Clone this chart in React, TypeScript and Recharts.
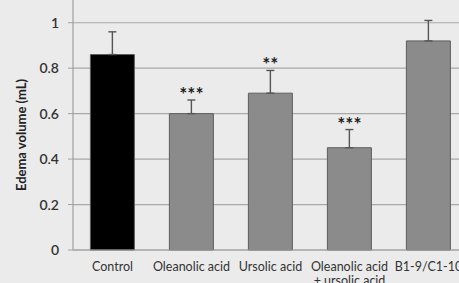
import React from "react";
import {
  BarChart,
  Bar,
  Cell,
  XAxis,
  YAxis,
  CartesianGrid,
  ErrorBar,
  LabelList,
} from "recharts";

const groups = [
  "Control",
  "Oleanolic acid",
  "Ursolic acid",
  "Oleanolic acid\n+ ursolic acid",
  "B1-9/C1-10",
];
const volumes = [0.86, 0.6, 0.69, 0.45, 0.92];
const sdUp = [0.1, 0.06, 0.1, 0.08, 0.09];
const stars = ["", "***", "**", "***", ""];
const barColors = ["#000000", "#8b8b8b", "#8b8b8b", "#8b8b8b", "#8b8b8b"];
const yTicks = [0, 0.2, 0.4, 0.6, 0.8, 1];

const data = groups.map((g, i) => ({
  group: g,
  volume: volumes[i],
  err: [0, sdUp[i]],
  sig: stars[i],
}));

const FONT = "Lato, 'Open Sans', sans-serif";

function GroupTick({ x, y, payload }: any) {
  const lines = String(payload.value).split("\n");
  return (
    <text
      x={x}
      y={y}
      textAnchor="middle"
      fill="#333"
      fontSize={12.5}
      fontFamily={FONT}
    >
      {lines.map((l, i) => (
        <tspan key={i} x={x} dy={i === 0 ? "0.71em" : 14}>
          {l}
        </tspan>
      ))}
    </text>
  );
}

// stars sit just above the error bar top
function StarLabel(props: any) {
  const { x, y, width, height, value, index } = props;
  if (!value) return null;
  const perUnit = height / volumes[index];
  const top = y - sdUp[index] * perUnit;
  return (
    <text
      x={x + width / 2}
      y={top + 1}
      textAnchor="middle"
      fill="#222"
      fontSize={19}
      fontWeight="bold"
      fontFamily={FONT}
    >
      {value}
    </text>
  );
}

export default function App() {
  return (
    <div
      style={{
        position: "absolute",
        left: 0,
        top: 0,
        width: 459,
        height: 283,
        overflow: "hidden",
        background: "#ebebeb",
      }}
    >
      <BarChart
        width={468}
        height={283}
        data={data}
        margin={{ top: 0, right: 0, left: 0, bottom: 0 }}
        barCategoryGap="22%"
      >
        <CartesianGrid
          vertical={false}
          stroke="#a9a9a9"
          strokeWidth={1.2}
          horizontalValues={yTicks}
        />
        <XAxis
          dataKey="group"
          interval={0}
          tickLine={false}
          axisLine={{ stroke: "#a0a0a0", strokeWidth: 1.2 }}
          tick={<GroupTick />}
          tickMargin={6}
          height={33}
        />
        <YAxis
          domain={[0, 1.1]}
          ticks={yTicks}
          width={73}
          tickSize={5}
          tickMargin={9}
          tickLine={{ stroke: "#a0a0a0" }}
          axisLine={{ stroke: "#a0a0a0", strokeWidth: 1.2 }}
          tick={{ fill: "#333", fontSize: 14, fontFamily: FONT, fontWeight: 600 }}
          label={{
            content: () => (
              <text
                x={21}
                y={135}
                transform="rotate(-90, 21, 135)"
                textAnchor="middle"
                dominantBaseline="central"
                fill="#222"
                fontSize={13}
                fontWeight="bold"
                fontFamily={FONT}
              >
                Edema volume (mL)
              </text>
            ),
          }}
        />
        <Bar
          dataKey="volume"
          stroke="#5e5e5e"
          strokeWidth={1}
          isAnimationActive={false}
        >
          {data.map((d, i) => (
            <Cell key={i} fill={barColors[i]} />
          ))}
          <ErrorBar
            dataKey="err"
            direction="y"
            width={4}
            stroke="#555"
            strokeWidth={1.4}
          />
          <LabelList dataKey="sig" content={<StarLabel />} />
        </Bar>
      </BarChart>
    </div>
  );
}
